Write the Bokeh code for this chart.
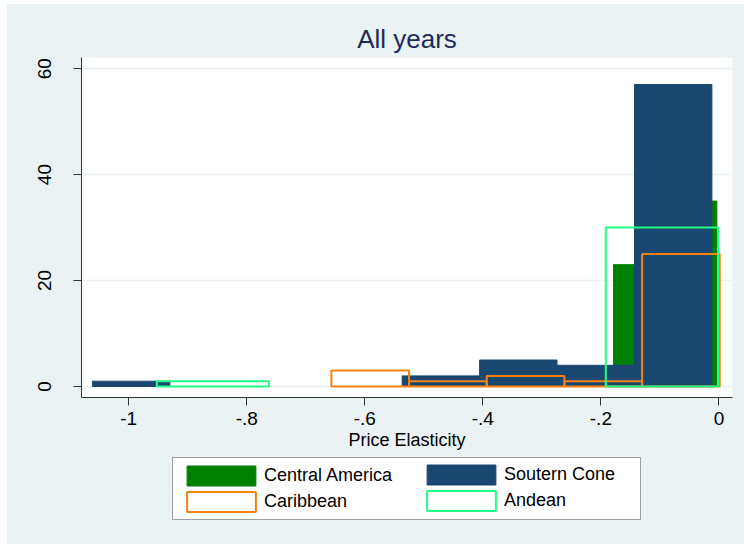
from bokeh.plotting import figure
from bokeh.layouts import column
from bokeh.models import (ColumnDataSource, FixedTicker, Legend, LegendItem,
                          CustomJSTickFormatter)
from bokeh.embed import file_html
from bokeh.resources import INLINE

# Histogram bins per region: left edge of the first bin, bin width, frequencies
central_start, central_width = -0.1785, 0.0875
central_counts = [23, 35]

southern_start, southern_width = -1.0615, 0.1312
southern_counts = [1, 0, 0, 0, 2, 5, 4, 57]

caribbean_start, caribbean_width = -0.6566, 0.1316
caribbean_counts = [3, 1, 2, 1, 25]

andean_start, andean_width = -0.9525, 0.1902
andean_counts = [1, 0, 0, 0, 30]

x_ticks = [-1.0, -0.8, -0.6, -0.4, -0.2, 0.0]
x_tick_labels = ["-1", "-.8", "-.6", "-.4", "-.2", "0"]
y_ticks = [0, 20, 40, 60]

BG = "#eaf2f3"
FONT = "Liberation Sans"

STYLES = {
    "Central America": dict(fill_color="#008000", line_color="#008000", line_width=1),
    "Soutern Cone": dict(fill_color="#1a476f", line_color="#1a476f", line_width=1),
    "Caribbean": dict(fill_alpha=0, line_color="#f7810f", line_width=2),
    "Andean": dict(fill_alpha=0, line_color="#22ff88", line_width=2),
}


def bin_source(start, width, counts):
    """Quads for the non-empty bins of one histogram."""
    keep = [i for i, c in enumerate(counts) if c > 0]
    return ColumnDataSource(dict(
        left=[start + i * width for i in keep],
        right=[start + (i + 1) * width for i in keep],
        top=[counts[i] for i in keep],
        bottom=[0] * len(keep),
    ))


p = figure(
    width=737, height=450,
    x_range=(-1.080, 0.023), y_range=(-2.08, 62.1),
    output_backend="svg", toolbar_location=None,
    min_border_left=74, min_border_right=12,
    min_border_top=53, min_border_bottom=57,
    background_fill_color="white", border_fill_color=BG,
    outline_line_color=None,
)

p.title.text = "All years"
p.title.align = "center"
p.title.text_font = FONT
p.title.text_font_size = "26px"
p.title.text_font_style = "normal"
p.title.text_color = "#1e2b55"
p.title.standoff = 8

series = [
    ("Central America", central_start, central_width, central_counts),
    ("Soutern Cone", southern_start, southern_width, southern_counts),
    ("Caribbean", caribbean_start, caribbean_width, caribbean_counts),
    ("Andean", andean_start, andean_width, andean_counts),
]
sources = {}
for name, start, width, counts in series:
    sources[name] = bin_source(start, width, counts)
    p.quad(source=sources[name],
           left="left", right="right", top="top", bottom="bottom", **STYLES[name])

# axes
p.xaxis.ticker = FixedTicker(ticks=x_ticks)
p.xaxis.formatter = CustomJSTickFormatter(
    args=dict(tick_values=x_ticks, tick_texts=x_tick_labels),
    code="""
        let best = 0
        for (let i = 1; i < tick_values.length; i++)
            if (Math.abs(tick_values[i] - tick) < Math.abs(tick_values[best] - tick)) best = i
        return tick_texts[best]
    """)
p.xaxis.axis_label = "Price Elasticity"
p.yaxis.ticker = FixedTicker(ticks=y_ticks)
p.yaxis.major_label_orientation = "vertical"
for ax in (p.xaxis[0], p.yaxis[0]):
    ax.axis_line_color = "#333333"
    ax.major_tick_line_color = "#333333"
    ax.major_tick_out = 8
    ax.major_tick_in = 0
    ax.minor_tick_line_color = None
    ax.major_label_text_font = FONT
    ax.major_label_text_font_size = "19px"
    ax.major_label_text_color = "black"
    ax.axis_label_text_font = FONT
    ax.axis_label_text_font_size = "18px"
    ax.axis_label_text_font_style = "normal"
    ax.axis_label_text_color = "black"
p.xaxis.major_label_standoff = 6
p.xaxis.axis_label_standoff = 2
p.yaxis.major_label_standoff = 22

p.xgrid.visible = False
p.ygrid.ticker = FixedTicker(ticks=y_ticks)
p.ygrid.grid_line_color = BG
p.ygrid.grid_line_width = 1.5

# key panel below the chart; its view lies away from the data so only the key shows
key = figure(
    width=737, height=90, x_range=(10, 11), y_range=(100, 101),
    output_backend="svg", toolbar_location=None,
    x_axis_type=None, y_axis_type=None,
    min_border=0, outline_line_color=None,
    background_fill_color=BG, border_fill_color=BG,
)
key.xgrid.visible = False
key.ygrid.visible = False
swatch = {}
for name in STYLES:
    swatch[name] = key.quad(source=sources[name], left="left", right="right",
                            top="top", bottom="bottom", **STYLES[name])

legend_style = dict(
    orientation="vertical", margin=0, padding=5, spacing=1,
    glyph_width=86, glyph_height=25, label_standoff=0, label_height=20,
    label_width=371,
    label_text_font=FONT, label_text_font_size="18px", label_text_color="black",
)

# left column carries the frame of the whole key
legend_left = Legend(
    items=[LegendItem(label="Central America", renderers=[swatch["Central America"]]),
           LegendItem(label="Caribbean", renderers=[swatch["Caribbean"]])],
    location=(91, 24),
    border_line_color="#404040", border_line_width=1,
    background_fill_color="white", background_fill_alpha=1,
    **legend_style,
)
legend_right = Legend(
    items=[LegendItem(label="Soutern Cone", renderers=[swatch["Soutern Cone"]]),
           LegendItem(label="Andean", renderers=[swatch["Andean"]])],
    location=(337, 31),
    border_line_color=None, background_fill_alpha=0,
    **legend_style,
)
key.add_layout(legend_left, "center")
key.add_layout(legend_right, "center")

page = column(p, key, spacing=0, margin=(4, 0, 0, 7),
              styles={"background-color": BG})
open("out.html", "w").write(file_html(page, INLINE))
